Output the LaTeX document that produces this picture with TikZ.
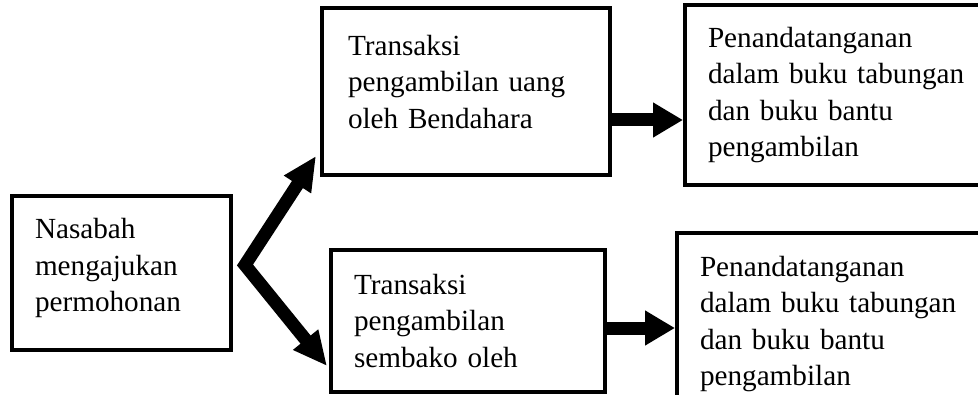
\documentclass[tikz,border=0pt]{standalone}
\usepackage{fontspec}
\setmainfont{Liberation Serif}
\usetikzlibrary{arrows.meta, positioning, calc}

\begin{document}
\begin{tikzpicture}[
  x=0.5pt, y=-0.5pt,
  box/.style={rectangle, draw=black, line width=2pt, align=left,
              inner xsep=11.5pt, inner ysep=0pt,
              font=\fontsize{14.6pt}{18.3pt}\selectfont},
  arrow/.style={-{Triangle[length=15pt, width=16.5pt]}, line width=6.5pt},
  fork/.style={{Triangle[length=17pt, width=15pt]}-{Triangle[length=17pt, width=15pt]},
               line width=6.5pt, line join=miter}
]
\useasboundingbox (0,0) rectangle (978,395);
\clip (0,0) rectangle (978,395);

\node[box, text width=86.5pt, minimum height=77pt]  (nasabah)    at (121.5,273) {Nasabah\\mengajukan\\permohonan\rule[-8pt]{0pt}{1pt}};
\node[box, inner xsep=13pt, text width=118pt, minimum height=83.5pt] (uang) at (466,91.5) {Transaksi\\pengambilan uang\\oleh Bendahara\rule[-10pt]{0pt}{1pt}};
\node[box, text width=133.5pt, minimum height=90pt] (ttduang)    at (841.5,95)  {Penandatanganan\\dalam buku tabungan\\dan buku bantu\\pengambilan};
\node[box, text width=114pt, minimum height=71pt]   (sembako)    at (468,321)   {Transaksi\\pengambilan\\sembako oleh};
\node[box, text width=137.5pt, minimum height=91pt] (ttdsembako) at (837.5,324) {Penandatanganan\\dalam buku tabungan\\dan buku bantu\\pengambilan};

% percabangan dari nasabah
\coordinate (cabang) at ($(nasabah.east)+(12,-8)$);
\coordinate (keuang) at ($(uang.south west)+(-4,-21)$);
\coordinate (kesembako) at ($(sembako.south west)+(-2,-28)$);
\draw[fork] (keuang) -- (cabang) -- (kesembako);

\coordinate (dariuang) at ($(uang.east)+(0,28.5)$);
\coordinate (darisembako) at ($(sembako.east)+(0,7)$);
\draw[arrow] (dariuang) -- (dariuang -| ttduang.west);
\draw[arrow] (darisembako) -- (darisembako -| ttdsembako.west);
\end{tikzpicture}
\end{document}
